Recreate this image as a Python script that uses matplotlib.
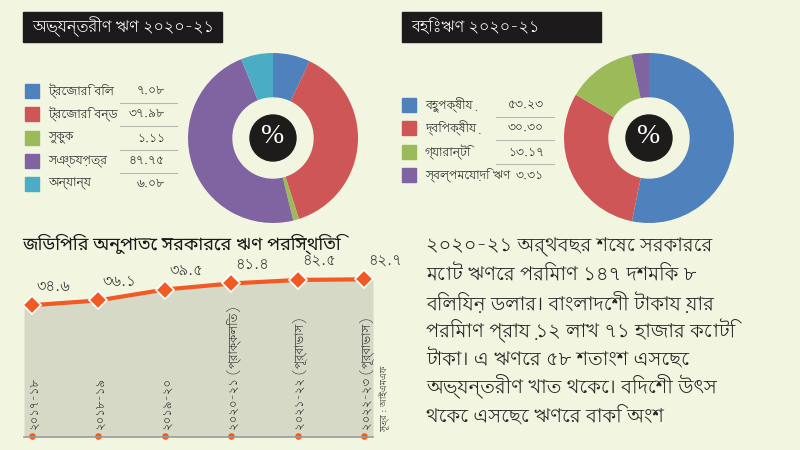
import matplotlib
matplotlib.use("Agg")
import matplotlib.pyplot as plt
from matplotlib import font_manager
from matplotlib.patches import Rectangle, Circle

# data
dom_labels = ["ট্রেজারি বিল", "ট্রেজারি বন্ড", "সুকুক", "সঞ্চয়পত্র", "অন্যান্য"]
dom_values = [7.08, 37.98, 1.11, 47.75, 6.08]
dom_text = ["৭.০৮", "৩৭.৯৮", "১.১১", "৪৭.৭৫", "৬.০৮"]
dom_colors = ["#4f81bd", "#cf5656", "#9bbb59", "#8064a2", "#4bacc6"]

ext_labels = ["বহুপক্ষীয়", "দ্বিপক্ষীয়", "গ্যারান্টি", "স্বল্পমেয়াদি ঋণ"]
ext_values = [53.23, 30.30, 13.17, 3.31]
ext_text = ["৫৩.২৩", "৩০.৩০", "১৩.১৭", "৩.৩১"]
ext_colors = ["#4f81bd", "#cf5656", "#9bbb59", "#8064a2"]

years = ["২০১৭-১৮", "২০১৮-১৯", "২০১৯-২০", "২০২০-২১ (প্রাক্কলিত)",
         "২০২১-২২ (পূর্বাভাস)", "২০২২-২৩ (পূর্বাভাস)"]
debt_gdp = [34.6, 36.1, 39.5, 41.4, 42.5, 42.7]
debt_text = ["৩৪.৬", "৩৬.১", "৩৯.৫", "৪১.৪", "৪২.৫", "৪২.৭"]

para = ["২০২০-২১ অর্থবছর শেষে সরকারের",
        "মোট ঋণের পরিমাণ ১৪৭ দশমিক ৮",
        "বিলিয়ন ডলার। বাংলাদেশী টাকায় যার",
        "পরিমাণ প্রায় ১২ লাখ ৭১ হাজার কোটি",
        "টাকা। এ ঋণের ৫৮ শতাংশ এসেছে",
        "অভ্যন্তরীণ খাত থেকে। বিদেশী উৎস",
        "থেকে এসেছে ঋণের বাকি অংশ"]

# pick Bengali fonts that are installed
installed = {f.name for f in font_manager.fontManager.ttflist}
bn = next((n for n in ["Lohit Bengali", "Noto Sans Bengali", "FreeSans"] if n in installed), None)
bn_bold = next((n for n in ["Noto Sans Bengali", "Lohit Bengali", "FreeSans"] if n in installed), None)
plt.rcParams["font.family"] = ([bn] if bn else []) + ["DejaVu Sans"]
bold_fam = ([bn_bold] if bn_bold else []) + ["DejaVu Sans"]

BG = "#f2f6e1"
TXT = "#262626"
W, H = 800, 450
fig = plt.figure(figsize=(8, 4.5), dpi=100, facecolor=BG)

# overlay in pixel coords
ov = fig.add_axes([0, 0, 1, 1])
ov.set_xlim(0, W)
ov.set_ylim(H, 0)
ov.axis("off")
ov.set_zorder(5)


def pix_axes(x0, y0, x1, y1):
    return fig.add_axes([x0 / W, 1 - y1 / H, (x1 - x0) / W, (y1 - y0) / H])


def donut(cx, cy, r, vals, cols):
    ax = pix_axes(cx - r, cy - r, cx + r, cy + r)
    ax.pie(vals, colors=cols, startangle=90, counterclock=False, radius=1,
           wedgeprops=dict(width=1 - 40 / r, edgecolor="none"))
    ax.add_patch(Circle((0, 0), 40 / r, color=BG, zorder=3))
    ax.add_patch(Circle((0, 0), 23 / r, color="#1e1b1b", zorder=4))
    ax.text(0, 0.02, "%", color="white", fontsize=20, ha="center", va="center",
            family="Liberation Serif", zorder=5)
    ax.set_xlim(-1, 1)
    ax.set_ylim(-1, 1)
    ax.set_aspect("equal")
    ax.axis("off")


def title_box(x0, x1, text):
    ov.add_patch(Rectangle((x0, 12), x1 - x0, 30, color="#1c1a1a"))
    ov.text(x0 + 9, 27, text, color="white", fontsize=11.5, va="center")


def legend(x_sq, x_lab, x_val, ys, labels, texts, cols, line_x):
    for i, (y, lab, t, c) in enumerate(zip(ys, labels, texts, cols)):
        ov.add_patch(Rectangle((x_sq, y - 7), 14, 14, color=c))
        ov.text(x_lab, y, lab, fontsize=8.8, va="center", color=TXT)
        ov.text(x_val, y, t, fontsize=8.8, va="center", ha="right", color=TXT)
        if i < len(ys) - 1:
            ov.plot(line_x, [y + 12, y + 12], color="#b8b8b0", lw=0.8)


# domestic debt
title_box(23, 222, "অভ্যন্তরীণ ঋণ ২০২০-২১")
legend(25, 48, 165, [91, 114, 138, 161, 184], dom_labels, dom_text, dom_colors, [120, 177])
donut(273, 138, 85, dom_values, dom_colors)

# external debt
title_box(402, 601, "বহিঃঋণ ২০২০-২১")
legend(402, 425, 544, [105, 128, 152, 175], ext_labels, ext_text, ext_colors, [496, 554])
donut(649, 138, 85, ext_values, ext_colors)

# debt to GDP chart
ov.text(22, 244, "জিডিপির অনুপাতে সরকারের ঋণ পরিস্থিতি", fontsize=13,
        fontweight="bold", family=bold_fam, va="center", color="#1a1a1a")

ax = pix_axes(24, 255, 373, 436)
xs = list(range(len(debt_gdp)))
ax.set_xlim(-0.12, len(xs) - 1 + 0.13)
ax.set_ylim(-6.3, 50.3)
ax.fill_between([-0.12] + xs + [len(xs) - 1 + 0.13],
                [debt_gdp[0]] + debt_gdp + [debt_gdp[-1]], -6.3, color="#d6d9c6", lw=0)
ax.plot(xs, debt_gdp, color="#f15a24", lw=3, marker="D", ms=9,
        mfc="#f15a24", mec="white", mew=1.2, zorder=3)
for x, v, t in zip(xs, debt_gdp, debt_text):
    ax.annotate(t, (x, v), xytext=(3, 8), textcoords="offset points",
                fontsize=10.5, color="#333333", ha="left", va="bottom")
for x, lab in zip(xs, years):
    ax.text(x + 0.03, -4.5, lab, rotation=90, fontsize=8.5, ha="center", va="bottom",
            color="#333333")
ax.scatter(xs, [-6.3] * len(xs), s=14, color="#f15a24", zorder=4, clip_on=False)
ax.axis("off")
ov.plot([24, 373], [436.5, 436.5], color="#9a9a9a", lw=1.2)
ov.text(384, 432, "সূত্র : আইএমএফ", rotation=90, fontsize=6.5, ha="center", va="bottom",
        color="#333333")

# paragraph
for i, line in enumerate(para):
    ov.text(426, 247 + i * 28, line, fontsize=14, va="center", color=TXT)

fig.savefig("out.png", dpi=100, facecolor=BG)
